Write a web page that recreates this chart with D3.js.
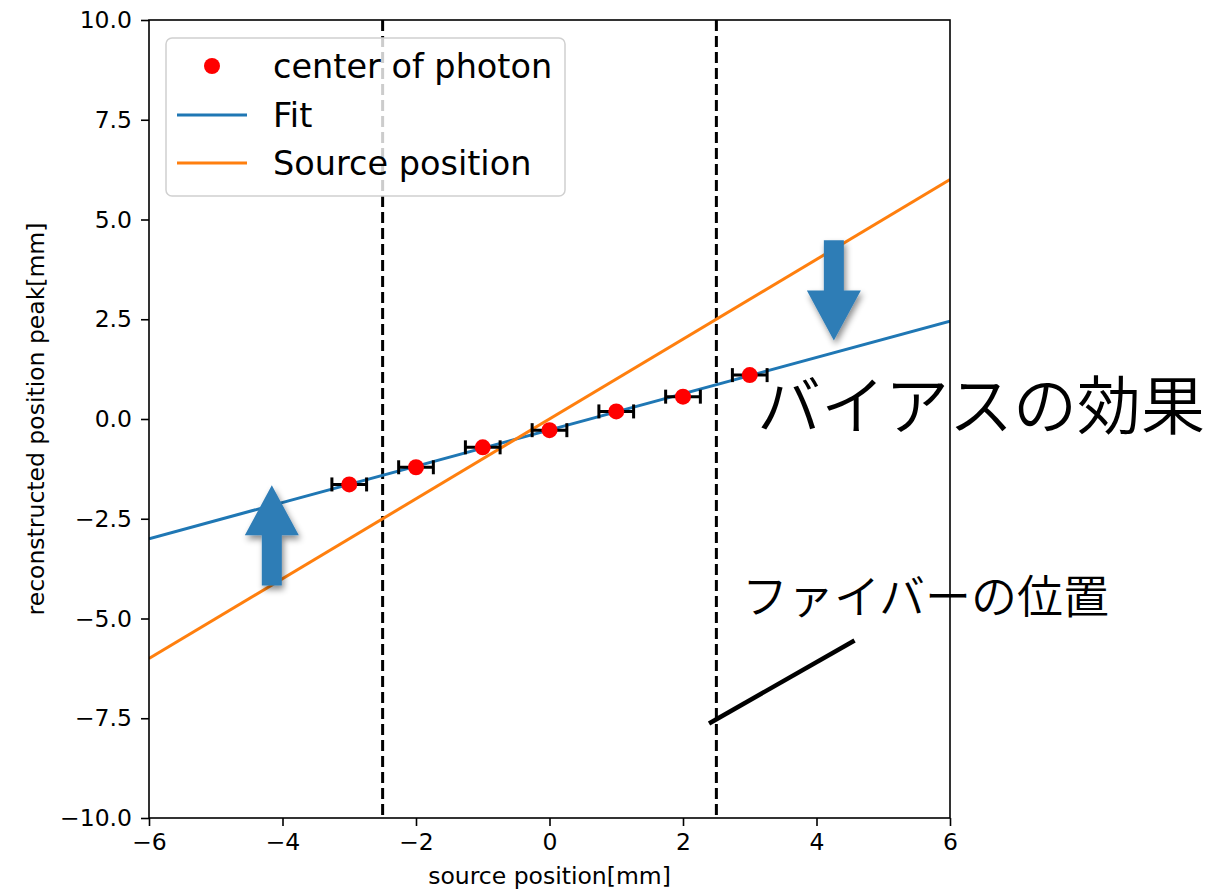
<!DOCTYPE html>
<html>
<head>
<meta charset="utf-8">
<script src="https://cdn.jsdelivr.net/npm/d3@7"></script>
<style>
  body { margin: 0; background: #fff; }
  svg { display: block; font-family: "DejaVu Sans", sans-serif; }
  .jp { font-family: "Noto Sans CJK JP", sans-serif; font-weight: 350; }
</style>
</head>
<body>
<svg id="chart" width="1209" height="890"></svg>
<script>
// measured points (center of photon) with horizontal error
var sourceX = [-3, -2, -1, 0, 1, 2, 3];
var peakY = [-1.64, -1.21, -0.71, -0.28, 0.19, 0.56, 1.1];
var xErr = [0.26, 0.26, 0.26, 0.26, 0.26, 0.26, 0.26];

// fit line and the y = x source line, end points
var fitX = [-6, 6];
var fitY = [-3.0, 2.45];
var srcX = [-6, 6];
var srcY = [-6, 6];

// fibre edges
var fiberX = [-2.5, 2.5];

var xTicks = [-6, -4, -2, 0, 2, 4, 6];
var yTicks = [-10, -7.5, -5, -2.5, 0, 2.5, 5, 7.5, 10];

// annotation arrows: x, tail y, tip y (data units)
var arrows = [
  {x: -4.16, from: -4.17, to: -1.66},
  {x: 4.26, from: 4.48, to: 1.97}
];
// pointer line to the fibre position
var pointerX = [2.39, 4.57];
var pointerY = [-7.63, -5.55];

var legendLabels = ['center of photon', 'Fit', 'Source position'];

var margin = {left: 149, right: 259, top: 20, bottom: 72};
var W = 1209, H = 890;

var svg = d3.select('#chart');

var x = d3.scaleLinear().domain([-6, 6]).range([margin.left, W - margin.right]);
var y = d3.scaleLinear().domain([-10, 10]).range([H - margin.bottom, margin.top]);

var defs = svg.append('defs');
defs.append('clipPath').attr('id', 'clip')
  .append('rect')
  .attr('x', x(-6)).attr('y', y(10))
  .attr('width', x(6) - x(-6)).attr('height', y(-10) - y(10));
var f = defs.append('filter').attr('id', 'shadow')
  .attr('x', '-50%').attr('y', '-50%').attr('width', '200%').attr('height', '200%');
f.append('feDropShadow')
  .attr('dx', 2).attr('dy', 4).attr('stdDeviation', 3)
  .attr('flood-color', '#000').attr('flood-opacity', 0.45);

var plot = svg.append('g').attr('clip-path', 'url(#clip)');

// dashed fibre edges
plot.selectAll('.fiber').data(fiberX).enter().append('line')
  .attr('x1', function (d) { return x(d); })
  .attr('x2', function (d) { return x(d); })
  .attr('y1', y(10)).attr('y2', y(-10))
  .style('stroke', '#000').style('stroke-width', 3)
  .style('stroke-dasharray', '11,5');

var line = d3.line()
  .x(function (d) { return x(d[0]); })
  .y(function (d) { return y(d[1]); });

plot.append('path')
  .attr('d', line(d3.zip(fitX, fitY)))
  .style('stroke', '#1f77b4').style('stroke-width', 3).style('fill', 'none');
plot.append('path')
  .attr('d', line(d3.zip(srcX, srcY)))
  .style('stroke', '#ff7f0e').style('stroke-width', 3).style('fill', 'none');

// error bars
var pts = d3.zip(sourceX, peakY, xErr);
var eb = plot.selectAll('.eb').data(pts).enter().append('g')
  .style('stroke', '#000').style('stroke-width', 3);
eb.append('line')
  .attr('x1', function (d) { return x(d[0] - d[2]); })
  .attr('x2', function (d) { return x(d[0] + d[2]); })
  .attr('y1', function (d) { return y(d[1]); })
  .attr('y2', function (d) { return y(d[1]); });
[-1, 1].forEach(function (s) {
  eb.append('line')
    .attr('x1', function (d) { return x(d[0] + s * d[2]); })
    .attr('x2', function (d) { return x(d[0] + s * d[2]); })
    .attr('y1', function (d) { return y(d[1]) - 7; })
    .attr('y2', function (d) { return y(d[1]) + 7; });
});

plot.selectAll('.pt').data(pts).enter().append('circle')
  .attr('cx', function (d) { return x(d[0]); })
  .attr('cy', function (d) { return y(d[1]); })
  .attr('r', 8)
  .style('fill', '#ff0000');

// axes
var xAxis = svg.append('g')
  .attr('transform', 'translate(0,' + y(-10) + ')')
  .call(d3.axisBottom(x).tickValues(xTicks).tickFormat(d3.format('d')).tickSize(8).tickPadding(7));
var yAxis = svg.append('g')
  .attr('transform', 'translate(' + x(-6) + ',0)')
  .call(d3.axisLeft(y).tickValues(yTicks).tickFormat(d3.format('.1f')).tickSize(8).tickPadding(9));
[xAxis, yAxis].forEach(function (a) {
  a.select('.domain').remove();
  a.selectAll('line').style('stroke', '#000').style('stroke-width', 1.6);
  a.selectAll('text').style('font-size', '23.5px').style('font-family', '"DejaVu Sans", sans-serif').style('fill', '#000');
});

svg.append('rect')
  .attr('x', x(-6)).attr('y', y(10))
  .attr('width', x(6) - x(-6)).attr('height', y(-10) - y(10))
  .style('fill', 'none').style('stroke', '#000').style('stroke-width', 1.6);

svg.append('text')
  .attr('x', (x(-6) + x(6)) / 2).attr('y', 884)
  .attr('text-anchor', 'middle')
  .style('font-size', '23.5px')
  .text('source position[mm]');
svg.append('text')
  .attr('transform', 'translate(44,' + y(0) + ') rotate(-90)')
  .attr('text-anchor', 'middle')
  .style('font-size', '23.5px')
  .text('reconstructed position peak[mm]');

// legend
var lg = svg.append('g').attr('transform', 'translate(166,38)');
lg.append('rect')
  .attr('width', 399).attr('height', 158).attr('rx', 6)
  .style('fill', 'rgba(255,255,255,0.8)').style('stroke', '#d0d0d0').style('stroke-width', 1.5);
var rowY = [28, 77, 125];
lg.append('circle').attr('cx', 46).attr('cy', rowY[0]).attr('r', 8).style('fill', '#ff0000');
lg.append('line').attr('x1', 11).attr('x2', 81).attr('y1', rowY[1]).attr('y2', rowY[1])
  .style('stroke', '#1f77b4').style('stroke-width', 3);
lg.append('line').attr('x1', 11).attr('x2', 81).attr('y1', rowY[2]).attr('y2', rowY[2])
  .style('stroke', '#ff7f0e').style('stroke-width', 3);
lg.selectAll('.lt').data(legendLabels).enter().append('text')
  .attr('x', 107)
  .attr('y', function (d, i) { return rowY[i]; })
  .attr('dy', '0.36em')
  .style('font-size', '33.5px')
  .text(function (d) { return d; });

// annotations
var head = 50, headHalf = 27, shaftHalf = 10;
svg.selectAll('.arrow').data(arrows).enter().append('path')
  .attr('d', function (d) {
    var cx = x(d.x), t = y(d.to), b = y(d.from);
    var dir = b > t ? 1 : -1;
    var hb = t + dir * head;
    return 'M' + cx + ',' + t +
      'L' + (cx + headHalf) + ',' + hb +
      'L' + (cx + shaftHalf) + ',' + hb +
      'L' + (cx + shaftHalf) + ',' + b +
      'L' + (cx - shaftHalf) + ',' + b +
      'L' + (cx - shaftHalf) + ',' + hb +
      'L' + (cx - headHalf) + ',' + hb + 'Z';
  })
  .style('fill', '#2f7db6')
  .attr('filter', 'url(#shadow)');

svg.append('line')
  .attr('x1', x(pointerX[0])).attr('y1', y(pointerY[0]))
  .attr('x2', x(pointerX[1])).attr('y2', y(pointerY[1]))
  .style('stroke', '#000').style('stroke-width', 4.5);

svg.append('text').attr('class', 'jp')
  .attr('x', 757).attr('y', 401)
  .attr('dominant-baseline', 'central')
  .style('font-size', '64px')
  .text('バイアスの効果');
svg.append('text').attr('class', 'jp')
  .attr('x', 742).attr('y', 593)
  .attr('dominant-baseline', 'central')
  .style('font-size', '46px')
  .text('ファイバーの位置');
</script>
</body>
</html>
